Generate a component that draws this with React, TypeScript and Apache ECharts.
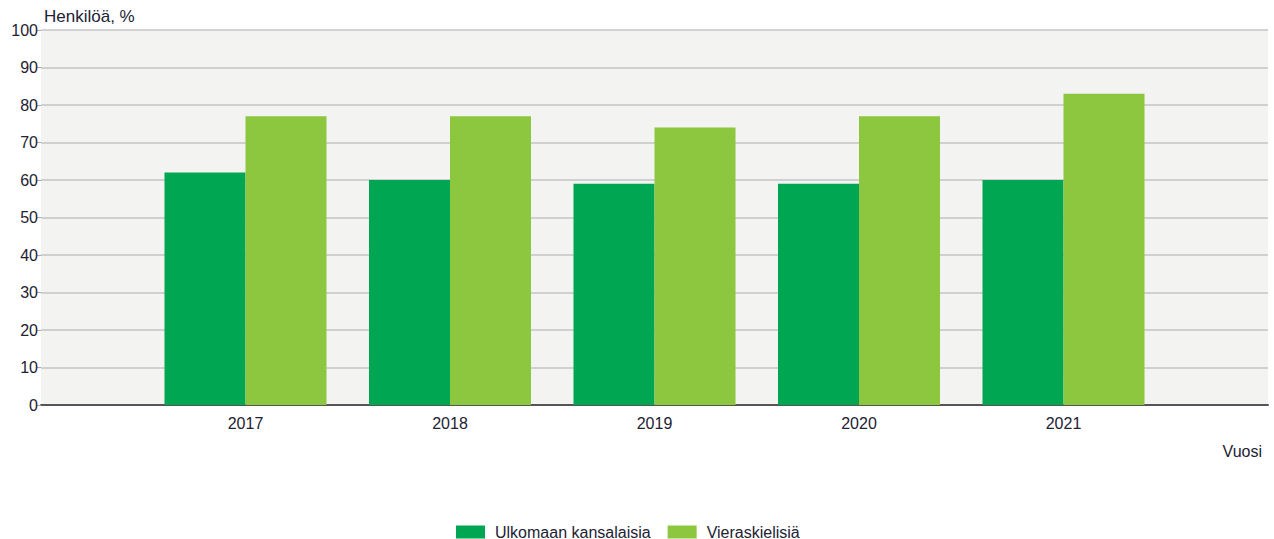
import React, { useEffect, useRef } from "react";
import * as echarts from "echarts";

const years = ["2017", "2018", "2019", "2020", "2021"];
const ulkomaanKansalaisia = [62, 60, 59, 59, 60];
const vieraskielisia = [77, 77, 74, 77, 83];
const yTicks = [0, 10, 20, 30, 40, 50, 60, 70, 80, 90, 100];
const seriesNames = ["Ulkomaan kansalaisia", "Vieraskielisiä"];

const FONT = "'Liberation Sans', Arial, sans-serif";
const TXT = "#222233";

export default function App() {
  const ref = useRef<HTMLDivElement>(null);
  useEffect(() => {
    if (!ref.current) return;
    const chart = echarts.init(ref.current, undefined, { renderer: "svg" });
    const cats = ["", ...years, ""];
    const pad = (arr: number[]) => [null, ...arr, null];
    chart.setOption({
      animation: false,
      textStyle: { fontFamily: FONT },
      grid: { left: 41, right: 6, top: 30, bottom: 134, backgroundColor: "#f3f3f2", show: true, borderWidth: 0 },
      title: {
        text: "Henkilöä, %",
        left: 39,
        top: 3,
        textStyle: { fontFamily: FONT, fontSize: 17, fontWeight: "normal", color: TXT },
      },
      legend: {
        left: 451,
        top: 519,
        itemWidth: 29,
        itemHeight: 13,
        itemGap: 17,
        icon: "rect",
        textStyle: { fontFamily: FONT, fontSize: 16, color: TXT, padding: [0, 0, 0, 5] },
        data: seriesNames,
      },
      xAxis: {
        type: "category",
        data: cats,
        boundaryGap: false,
        name: "Vuosi",
        nameLocation: "end",
        nameGap: 0,
        nameTextStyle: {
          fontFamily: FONT,
          fontSize: 16,
          color: TXT,
          align: "right",
          verticalAlign: "top",
          padding: [38, 6, 0, 0],
        },
        axisLine: { lineStyle: { color: "#555555", width: 2 } },
        axisTick: { show: false },
        axisLabel: { fontFamily: FONT, fontSize: 16, color: TXT, margin: 10, interval: 0 },
        splitLine: { show: false },
      },
      yAxis: {
        type: "value",
        min: yTicks[0],
        max: yTicks[yTicks.length - 1],
        interval: 10,
        axisLine: { show: false },
        axisTick: { show: true, length: 4, lineStyle: { color: "#aaaaaa" } },
        axisLabel: { fontFamily: FONT, fontSize: 16, color: TXT, margin: 3 },
        splitLine: { lineStyle: { color: "#c4c4c4", width: 1.5 } },
      },
      series: [
        {
          name: seriesNames[0],
          type: "bar",
          data: pad(ulkomaanKansalaisia),
          barWidth: 81,
          barGap: "0%",
          itemStyle: { color: "#00a651" },
        },
        {
          name: seriesNames[1],
          type: "bar",
          data: pad(vieraskielisia),
          barWidth: 81,
          barGap: "0%",
          itemStyle: { color: "#8dc63f" },
        },
      ],
    });
    return () => chart.dispose();
  }, []);
  return <div ref={ref} style={{ width: 1274, height: 539, position: "absolute", left: 0, top: 0 }} />;
}
